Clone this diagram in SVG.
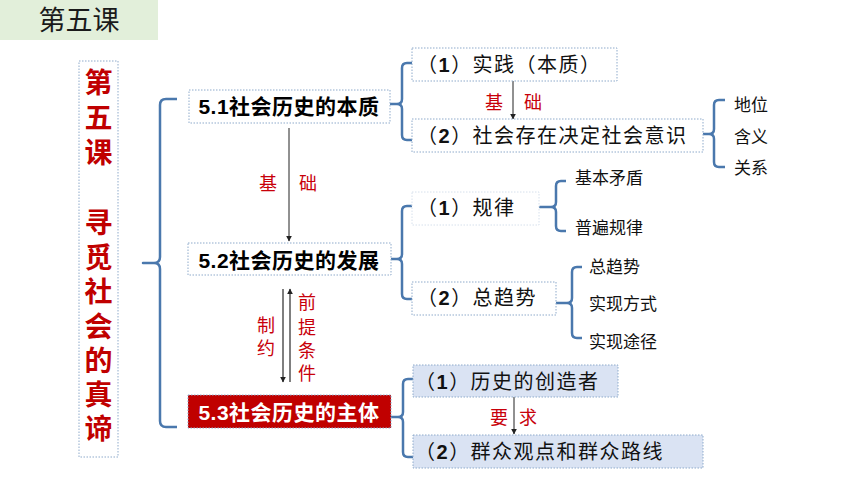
<svg xmlns="http://www.w3.org/2000/svg" width="860" height="484" viewBox="0 0 860 484">
<style>
text{font-family:"Liberation Sans","Noto Sans CJK SC",sans-serif;}
.box{fill:#fff;stroke:#8eaacb;stroke-width:1;stroke-dasharray:1.5 1.5;}
.faint{fill:#fff;stroke:#d6e0ec;stroke-width:1;stroke-dasharray:1.5 1.5;}
.blue{fill:#dae3f3;stroke:#8eaacb;stroke-width:1;stroke-dasharray:1.5 1.5;}
.red{fill:#c00000;stroke:#8eaacb;stroke-width:1;stroke-dasharray:1.5 1.5;}
.main{font-size:21px;font-weight:bold;fill:#000;text-anchor:middle;letter-spacing:0.5px;}
.sub{font-size:20px;fill:#111;letter-spacing:1.5px;}
.d{font-weight:bold;}
.small{font-size:17px;fill:#111;}
.lab{font-size:18px;fill:#c8000a;text-anchor:middle;}
.brace{fill:none;stroke:#4a78ad;stroke-width:2.5;stroke-linejoin:round;}
.arr{fill:none;stroke:#222;stroke-width:1;marker-end:url(#ah);}
.arr2{fill:none;stroke:#555;stroke-width:1.5;marker-end:url(#ah);}
</style>
<defs>
<marker id="ah" viewBox="0 0 10 10" refX="9" refY="5" markerWidth="6" markerHeight="6" markerUnits="userSpaceOnUse" orient="auto">
<path d="M0,0 L10,5 L0,10 z" fill="#222"/>
</marker>
</defs>
<rect width="860" height="484" fill="#fff"/>
<g id="title">
<rect x="0" y="0" width="158" height="40" fill="#e2efda"/>
<text x="79" y="30" font-size="27" fill="#1a1a1a" text-anchor="middle">第五课</text>
</g>
<g id="lesson">
<rect class="box" x="79" y="61" width="39" height="396"/>
<text font-size="28" font-weight="bold" fill="#c00000" text-anchor="middle">
<tspan x="98.5" y="93">第</tspan><tspan x="98.5" y="128">五</tspan><tspan x="98.5" y="163">课</tspan><tspan x="98.5" y="233">寻</tspan><tspan x="98.5" y="268">觅</tspan><tspan x="98.5" y="302">社</tspan><tspan x="98.5" y="337">会</tspan><tspan x="98.5" y="371">的</tspan><tspan x="98.5" y="405">真</tspan><tspan x="98.5" y="439">谛</tspan>
</text>
</g>
<g id="connectors">
<path class="brace" d="M177,99 L166,99 Q160,99 160,105 L160,257 Q160,263 154,263 L143,263 L154,263 Q160,263 160,269 L160,421 Q160,427 166,427 L177,427"/>
<path class="brace" d="M412,63 L407,63 Q402,63 402,68 L402,99 Q402,104 397,104 L391,104 L397,104 Q402,104 402,109 L402,135 Q402,140 407,140 L412,140"/>
<path class="brace" d="M412,206 L407,206 Q402,206 402,211 L402,254 Q402,259 397,259 L391,259 L397,259 Q402,259 402,264 L402,294 Q402,299 407,299 L412,299"/>
<path class="brace" d="M413,379 L408,379 Q403,379 403,384 L403,412 Q403,417 398,417 L391,417 L398,417 Q403,417 403,422 L403,452 Q403,457 408,457 L413,457"/>
<path class="brace" d="M725,100 L719,100 Q714,100 714,105 L714,129 Q714,134 709,134 L703,134 L709,134 Q714,134 714,139 L714,162 Q714,167 719,167 L725,167"/>
<path class="brace" d="M566,181 L561,181 Q556,181 556,186 L556,202 Q556,207 551,207 L540,207 L551,207 Q556,207 556,212 L556,226 Q556,231 561,231 L566,231"/>
<path class="brace" d="M582,267 L577,267 Q572,267 572,272 L572,298 Q572,303 567,303 L556,303 L567,303 Q572,303 572,308 L572,333 Q572,338 577,338 L582,338"/>
<path class="arr" d="M289,128 L289,241"/>
<path class="arr2" d="M283,289 L283,382"/>
<path class="arr2" d="M290,382 L290,289"/>
<path class="arr" d="M513,81 L513,119"/>
<path class="arr" d="M514,397 L514,434"/>
<text class="lab"><tspan x="268" y="190">基</tspan><tspan x="308" y="190">础</tspan></text>
<text class="lab"><tspan x="494" y="109">基</tspan><tspan x="533" y="109">础</tspan></text>
<text class="lab"><tspan x="499" y="424">要</tspan><tspan x="528" y="424">求</tspan></text>
<text class="lab"><tspan x="266" y="332">制</tspan><tspan x="266" y="355">约</tspan></text>
<text class="lab"><tspan x="307" y="309">前</tspan><tspan x="307" y="334">提</tspan><tspan x="307" y="357">条</tspan><tspan x="307" y="380">件</tspan></text>
</g>
<g id="n51">
<rect class="box" x="189" y="90" width="201" height="33"/>
<text class="main" x="289" y="114">5.1社会历史的本质</text>
</g>
<g id="n52">
<rect class="box" x="188" y="243" width="203" height="32"/>
<text class="main" x="289" y="268">5.2社会历史的发展</text>
</g>
<g id="n53">
<rect class="red" x="188" y="395" width="203" height="33"/>
<text class="main" x="289" y="420" style="fill:#fff">5.3社会历史的主体</text>
</g>
<g id="n511">
<rect class="box" x="412" y="48" width="205" height="33"/>
<text class="sub" x="417" y="72">（<tspan class="d">1</tspan>）实践（本质）</text>
</g>
<g id="n512">
<rect class="box" x="412" y="119" width="291" height="33"/>
<text class="sub" x="417" y="143">（<tspan class="d">2</tspan>）社会存在决定社会意识</text>
</g>
<g id="n512a"><text class="small" x="734" y="111">地位</text></g>
<g id="n512b"><text class="small" x="734" y="143">含义</text></g>
<g id="n512c"><text class="small" x="734" y="174">关系</text></g>
<g id="n521">
<rect class="faint" x="412" y="192" width="127" height="33"/>
<text class="sub" x="417" y="215">（<tspan class="d">1</tspan>）规律</text>
</g>
<g id="n521a"><text class="small" x="575" y="184">基本矛盾</text></g>
<g id="n521b"><text class="small" x="575" y="234">普遍规律</text></g>
<g id="n522">
<rect class="box" x="412" y="282" width="144" height="33"/>
<text class="sub" x="417" y="305">（<tspan class="d">2</tspan>）总趋势</text>
</g>
<g id="n522a"><text class="small" x="589" y="273">总趋势</text></g>
<g id="n522b"><text class="small" x="589" y="310">实现方式</text></g>
<g id="n522c"><text class="small" x="589" y="348">实现途径</text></g>
<g id="n531">
<rect class="blue" x="413" y="365" width="205" height="32"/>
<text class="sub" x="415" y="389">（<tspan class="d">1</tspan>）历史的创造者</text>
</g>
<g id="n532">
<rect class="blue" x="413" y="435" width="290" height="33"/>
<text class="sub" x="415" y="459">（<tspan class="d">2</tspan>）群众观点和群众路线</text>
</g>
</svg>
